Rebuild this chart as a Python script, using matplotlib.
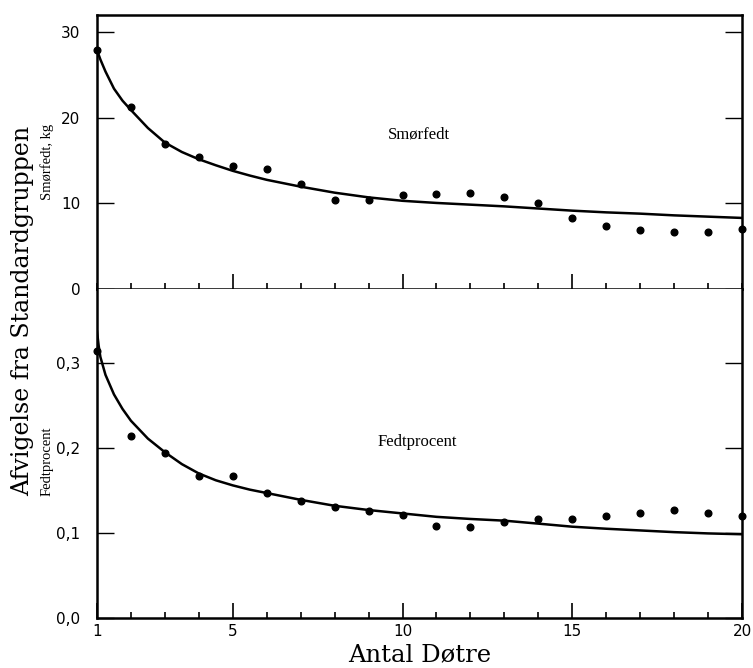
import matplotlib
matplotlib.use("Agg")
import matplotlib.pyplot as plt
from matplotlib.ticker import MultipleLocator

# ---- data ----
antal = list(range(1, 21))

smorfedt_points = [27.9, 21.2, 16.9, 15.4, 14.4, 14.0, 12.3, 10.4, 10.4, 11.0,
                   11.1, 11.2, 10.7, 10.1, 8.3, 7.4, 6.9, 6.7, 6.6, 7.05]
smorfedt_curve_x = [1, 1.1, 1.25, 1.5, 1.75, 2, 2.5, 3, 3.5, 4, 4.5, 5, 5.5, 6,
                    7, 8, 9, 10, 11, 12, 13, 14, 15, 16, 17, 18, 19, 20]
smorfedt_curve_y = [27.9, 26.8, 25.4, 23.4, 22.0, 20.9, 18.8, 17.1, 16.0, 15.15,
                    14.45, 13.8, 13.25, 12.75, 11.95, 11.25, 10.7, 10.3, 10.05,
                    9.85, 9.65, 9.4, 9.15, 8.95, 8.8, 8.6, 8.45, 8.3]

fedt_points = [0.3145, 0.214, 0.194, 0.167, 0.1675, 0.147, 0.138, 0.131, 0.1255,
               0.121, 0.1086, 0.107, 0.113, 0.117, 0.117, 0.120, 0.123, 0.127,
               0.123, 0.120]
fedt_curve_x = [1, 1.05, 1.1, 1.25, 1.5, 1.75, 2, 2.5, 3, 3.5, 4, 4.5, 5, 5.5,
                6, 7, 8, 9, 10, 11, 12, 13, 14, 15, 16, 17, 18, 19, 20]
fedt_curve_y = [0.337, 0.320, 0.307, 0.286, 0.263, 0.246, 0.232, 0.211, 0.195,
                0.181, 0.170, 0.162, 0.156, 0.151, 0.147, 0.139, 0.132, 0.127,
                0.123, 0.119, 0.1165, 0.1145, 0.111, 0.1074, 0.105, 0.103,
                0.101, 0.0995, 0.0985]

top_yticks = [0, 10, 20, 30]
top_yticklabels = ["0", "10", "20", "30"]
bot_yticks = [0.0, 0.1, 0.2, 0.3]
bot_yticklabels = ["0,0", "0,1", "0,2", "0,3"]
top_xticks = [5, 10, 15]
bot_xticks = [1, 5, 10, 15, 20]

W, H = 753, 668
fig = plt.figure(figsize=(W / 100, H / 100), dpi=100)

left = 97 / W
right = 742 / W
y_top = 1 - 15 / H
y_mid = 1 - 289 / H
y_bot = 1 - 618 / H

ax1 = fig.add_axes([left, y_mid, right - left, y_top - y_mid])
ax2 = fig.add_axes([left, y_bot, right - left, y_mid - y_bot])

lw_spine = 1.8

for ax in (ax1, ax2):
    ax.set_xlim(1, 20)
    for s in ax.spines.values():
        s.set_linewidth(lw_spine)
    ax.xaxis.set_minor_locator(MultipleLocator(1))
    ax.tick_params(axis="x", which="major", direction="in", length=11, width=1.2,
                   pad=4, labelsize=11, top=False)
    ax.tick_params(axis="x", which="minor", direction="in", length=4.5, width=1.2,
                   top=False)
    ax.tick_params(axis="y", which="major", direction="in", length=12, width=1.0,
                   right=True, pad=12, labelsize=11)

# top panel
ax1.set_ylim(0, 32)
ax1.plot(smorfedt_curve_x, smorfedt_curve_y, color="black", lw=1.8, zorder=3)
ax1.plot(antal, smorfedt_points, "o", color="black", ms=4.8, zorder=4, clip_on=False)
ax1.set_xticks(top_xticks)
ax1.set_xticklabels([str(v) for v in top_xticks], fontfamily="DejaVu Sans")
ax1.set_yticks(top_yticks)
ax1.set_yticklabels(top_yticklabels, fontfamily="DejaVu Sans")
ax1.text(10.48, 18.0, "Smørfedt", family="Liberation Serif", fontsize=12,
         ha="center", va="center")

# bottom panel
ax2.set_ylim(0, 0.387)
ax2.spines["top"].set_visible(False)
ax2.plot(fedt_curve_x, fedt_curve_y, color="black", lw=1.8, zorder=3)
ax2.plot(antal, fedt_points, "o", color="black", ms=4.8, zorder=4, clip_on=False)
ax2.set_xticks(bot_xticks)
ax2.set_xticklabels([str(v) for v in bot_xticks], fontfamily="DejaVu Sans")
ax2.set_yticks(bot_yticks)
ax2.set_yticklabels(bot_yticklabels, fontfamily="DejaVu Sans")
ax2.text(10.43, 0.207, "Fedtprocent", family="Liberation Serif", fontsize=12,
         ha="center", va="center")

# axis labels
fig.text(23 / W, 1 - 311 / H, "Afvigelse fra Standardgruppen", rotation=90,
         family="DejaVu Serif", fontsize=17, ha="center", va="center")
fig.text(47 / W, 1 - 162 / H, "Smørfedt, kg", rotation=90,
         family="Liberation Serif", fontsize=10.5, ha="center", va="center")
fig.text(47 / W, 1 - 461 / H, "Fedtprocent", rotation=90,
         family="Liberation Serif", fontsize=10.5, ha="center", va="center")
fig.text(420 / W, 1 - 655 / H, "Antal Døtre", family="DejaVu Serif",
         fontsize=17.5, ha="center", va="center")

fig.savefig("out.png", dpi=100)
